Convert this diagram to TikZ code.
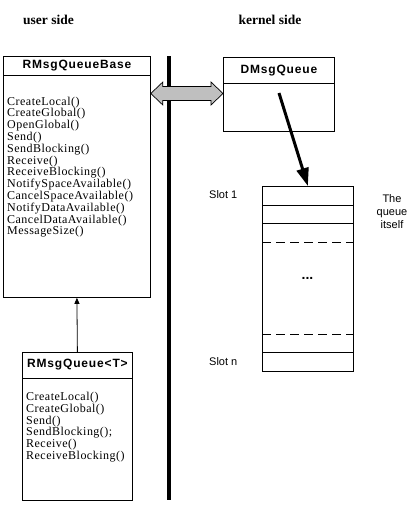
\documentclass[tikz,border=0pt]{standalone}
\usepackage{fontspec}
\setmainfont{Liberation Serif}
\setsansfont{Liberation Sans}
\newfontfamily\methfont[LetterSpace=4]{Liberation Serif}
\newfontfamily\titlefont[LetterSpace=7]{Liberation Sans}
\usetikzlibrary{calc,arrows.meta}
\begin{document}
\begin{tikzpicture}[x=1pt,y=-1pt,
  box/.style={draw,line width=0.8pt,rectangle,inner sep=0pt,anchor=north west},
  title/.style={font=\titlefont\bfseries\fontsize{12}{12}\selectfont,inner sep=0pt},
  meth/.style={font=\methfont\fontsize{12}{12}\selectfont,inner sep=0pt,anchor=base west},
  side/.style={font=\bfseries\fontsize{13.5}{13.5}\selectfont,inner sep=0pt},
  lbl/.style={font=\sffamily\fontsize{11}{13}\selectfont,inner sep=0pt},
  sep/.style={line width=0.8pt}]
\useasboundingbox (0,0) rectangle (420,506);

% headings
\node[side] (us) at (48.5,19.5) {user side};
\node[side] (ks) at (270,19.5) {kernel side};

% RMsgQueueBase
\node[box,minimum width=147pt,minimum height=241pt] (base) at (3,56) {};
\draw[sep] ([yshift=-19pt]base.north west) -- ([yshift=-19pt]base.north east);
\node[title] (baset) at ($(base.north)+(0,9.5)$) {RMsgQueueBase};
\foreach \t [count=\i] in {CreateLocal(),CreateGlobal(),OpenGlobal(),Send(),SendBlocking(),Receive(),ReceiveBlocking(),NotifySpaceAvailable(),CancelSpaceAvailable(),NotifyDataAvailable(),CancelDataAvailable(),MessageSize()}
  \node[meth] (bm\i) at (7,{105+11.8*(\i-1)}) {\t};

% RMsgQueue<T>
\node[box,minimum width=110pt,minimum height=148pt] (rq) at (22,352) {};
\draw[sep] ([yshift=-26pt]rq.north west) -- ([yshift=-26pt]rq.north east);
\node[title] (rqt) at ($(rq.north)+(0,13)$) {RMsgQueue<T>};
\foreach \t [count=\i] in {CreateLocal(),CreateGlobal(),Send(),{SendBlocking();},Receive(),ReceiveBlocking()}
  \node[meth] (rm\i) at (26,{400.5+11.8*(\i-1)}) {\t};

% inheritance
\draw[line width=0.8pt,-{Triangle[length=6pt,width=5pt]}] (rq.north) -- (base.south);

% boundary line
\coordinate (bt) at (168.5,56);
\coordinate (bb) at (168.5,500);
\draw[line width=4pt] (bt) -- (bb);

% DMsgQueue
\node[box,minimum width=111pt,minimum height=74pt] (dmsg) at (223,57) {};
\draw[sep] ([yshift=-26pt]dmsg.north west) -- ([yshift=-26pt]dmsg.north east);
\node[title] (dmsgt) at ($(dmsg.north)+(0,14)$) {DMsgQueue};

% double arrow
\coordinate (dl) at (base.east |- 0,93.5);
\coordinate (dr) at (dmsg.west |- 0,93.5);
\filldraw[fill=black!25,draw=black,line width=0.7pt]
  (dl) -- ++(12,-11.5) -- ++(0,4.5) -- ($(dr)+(-12,-7)$) -- ++(0,-4.5) -- (dr)
  -- ++(-12,11.5) -- ++(0,-4.5) -- ($(dl)+(12,7)$) -- ++(0,4.5) -- cycle;

% queue
\node[box,minimum width=91pt,minimum height=185pt] (queue) at (262,186) {};
\draw[sep] (queue.west |- 0,205) -- (queue.east |- 0,205);
\draw[sep] (queue.west |- 0,223) -- (queue.east |- 0,223);
\draw[sep,dash pattern=on 9pt off 5pt] (queue.west |- 0,242) -- (queue.east |- 0,242);
\draw[sep,dash pattern=on 9pt off 5pt] (queue.west |- 0,334) -- (queue.east |- 0,334);
\draw[sep] (queue.west |- 0,352) -- (queue.east |- 0,352);
\node[font=\sffamily\bfseries\fontsize{14}{14}\selectfont,inner sep=0pt] (dots) at (307.5,278) {...};

% thick arrow
\coordinate (as) at (279,93);
\draw[line width=3pt,-{Triangle[length=18pt,width=12pt]}] (as) -- (queue.north);

% labels
\node[lbl,anchor=west] (s1) at (209,195) {Slot 1};
\node[lbl,anchor=west] (sn) at (209,362) {Slot n};
\node[lbl,align=center] (qi) at (392,212) {The\\queue\\itself};
\end{tikzpicture}
\end{document}
